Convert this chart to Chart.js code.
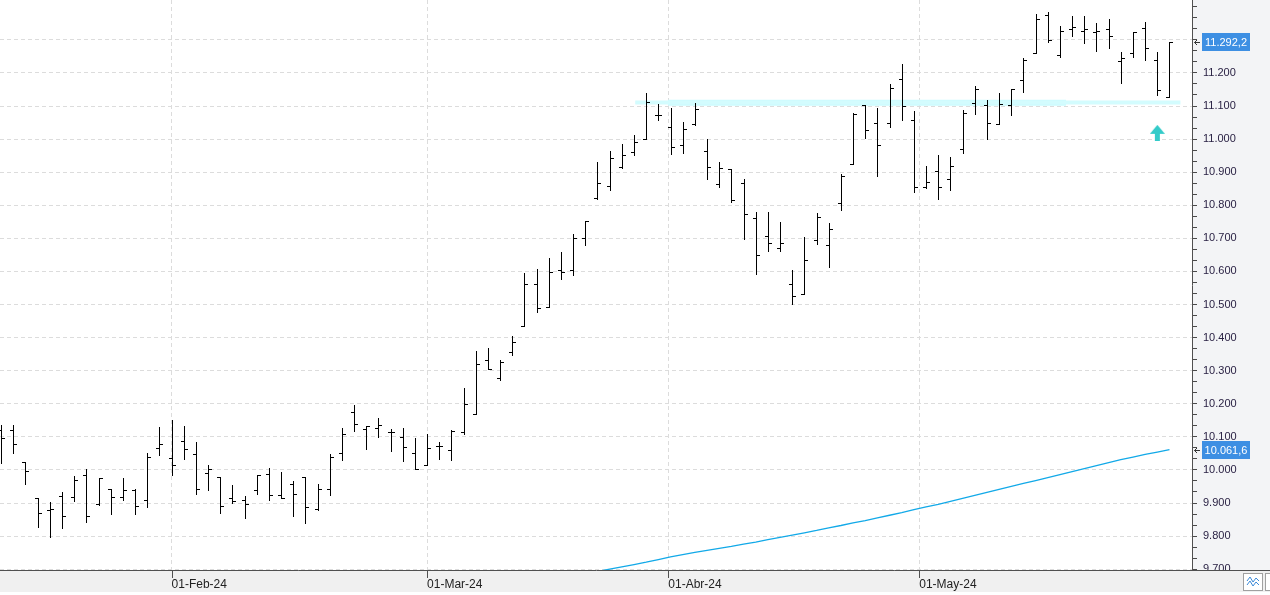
<!DOCTYPE html>
<html>
<head>
<meta charset="utf-8">
<title>Barras diarias</title>
<script src="https://cdn.jsdelivr.net/npm/chart.js"></script>
<style>
  html, body { margin: 0; padding: 0; background: #fff; overflow: hidden; }
  canvas { display: block; }
</style>
</head>
<body>
<canvas id="priceChart" width="1270" height="595"></canvas>
<script>
// one entry per session, index 0 = first bar on the left
const opens = [10120, 10121, 10023, 9914, 9879, 9920, 9918, 9984, 9898, 9942,
  9917, 9940, 9909, 10066, 10035, 10087, 10048, 9990, 9979, 9914,
  9909, 9939, 9987, 9923, 9957, 9978, 9883, 9942, 10050, 10175,
  10123, 10126, 10114, 10099, 10052, 10014, 10072, 10061, 10114, 10168,
  10332, 10277, 10356, 10435, 10562, 10492, 10604, 10604, 10701, 10822,
  10858, 10915, 10962, 11001, 11072, 11037, 10983, 11046, 10965, 10864,
  10910, 10867, 10762, 10707, 10670, 10562, 10532, 10694, 10680, 10807,
  10926, 11104, 11050, 11050, 11182, 11058, 10856, 10905, 10880, 10970,
  11108, 11103, 11045, 11103, 11179, 11261, 11376, 11255, 11334, 11327,
  11324, 11333, 11237, 11261, 11336, 11240, 11128];
const highs = [10136, 10136, 10023, 9914, 9902, 9933, 9981, 10002, 9976, 9942,
  9975, 9942, 10050, 10129, 10151, 10133, 10084, 10014, 9979, 9954,
  9920, 9986, 10005, 9994, 9967, 9978, 9958, 10048, 10126, 10196,
  10134, 10156, 10125, 10126, 10096, 10108, 10083, 10121, 10247, 10358,
  10369, 10332, 10405, 10596, 10608, 10641, 10658, 10714, 10752, 10932,
  10965, 10986, 11011, 11140, 11107, 11094, 11052, 11110, 11001, 10932,
  10910, 10880, 10781, 10780, 10749, 10605, 10704, 10777, 10746, 10895,
  11079, 11104, 11094, 11168, 11228, 11085, 10920, 10953, 10947, 11089,
  11162, 11119, 11138, 11152, 11246, 11377, 11385, 11343, 11371, 11371,
  11352, 11362, 11263, 11324, 11354, 11263, 11292.2];
const lows = [10022, 10050, 9956, 9827, 9798, 9824, 9905, 9844, 9893, 9866,
  9909, 9866, 9889, 10044, 9986, 10034, 9928, 9939, 9871, 9899,
  9856, 9928, 9908, 9914, 9862, 9841, 9880, 9924, 10030, 10119,
  10064, 10100, 10058, 10028, 10002, 10014, 10034, 10031, 10108, 10168,
  10305, 10271, 10347, 10435, 10476, 10492, 10576, 10588, 10679, 10819,
  10847, 10913, 10951, 11001, 11057, 10954, 10957, 11043, 10880, 10855,
  10809, 10697, 10592, 10661, 10661, 10501, 10532, 10684, 10612, 10786,
  10926, 11003, 10888, 11036, 11057, 10840, 10852, 10818, 10845, 10957,
  11075, 11001, 11045, 11072, 11141, 11261, 11293, 11248, 11312, 11291,
  11266, 11275, 11169, 11248, 11238, 11132, 11128];
const closes = [10096, 10079, 9996, 9869, 9881, 9860, 9969, 9860, 9976, 9917,
  9939, 9891, 10038, 10079, 10014, 10062, 9942, 10002, 9890, 9905,
  9896, 9984, 9925, 9916, 9927, 9887, 9943, 10038, 10108, 10138,
  10133, 10137, 10114, 10069, 10002, 10066, 10072, 10119, 10199, 10321,
  10305, 10326, 10388, 10562, 10489, 10599, 10599, 10701, 10752, 10867,
  10943, 10952, 10992, 11113, 11074, 10976, 11031, 11091, 10916, 10913,
  10816, 10774, 10650, 10686, 10686, 10526, 10635, 10765, 10727, 10887,
  11076, 11028, 10983, 11154, 11100, 10856, 10870, 10856, 10919, 11080,
  11152, 11050, 11107, 11152, 11240, 11364, 11300, 11327, 11340, 11333,
  11327, 11312, 11245, 11324, 11276, 11147, 11292.2];

// long moving average, only the part that shows above the bottom edge
const maStart = 47;
const movingAvg = [9678, 9686, 9693, 9700, 9707, 9714, 9721, 9729, 9737, 9744,
  9751, 9757, 9763, 9769, 9776, 9782, 9789, 9796, 9803, 9810,
  9817, 9825, 9832, 9840, 9847, 9855, 9863, 9871, 9880, 9888,
  9896, 9905, 9914, 9923, 9932, 9941, 9950, 9959, 9968, 9977,
  9986, 9995, 10004, 10013, 10022, 10031, 10039, 10047, 10054, 10061.6];

const monthTicks = [14, 35, 54.82, 75.44];
const monthLabels = ['01-Feb-24', '01-Mar-24', '01-Abr-24', '01-May-24'];
const yLabelled = [9700, 9800, 9900, 10000, 10100, 10200, 10300, 10400, 10500,
  10600, 10700, 10800, 10900, 11000, 11100, 11200, 11300];

// resistance band and buy signal drawn on the chart
const resistanceLevel = 11110;
const resistanceSpan = [52.1, 96.9];
const resistanceCore = [54.8, 87.5];
const signalBar = 95;
const signalLevel = 11019;
const priceTags = [11292.2, 10061.6];

const xMin = -0.095;
const xMax = 97.85;
const yMin = 9697.5;
const yMax = 11420.5;

// minor ticks every third of a hundred, majors every hundred
const yTickValues = [];
yLabelled.concat([11400]).forEach((v, i, arr) => {
  yTickValues.push(v);
  if (i < arr.length - 1) {
    yTickValues.push(v + 100 / 3, v + 200 / 3);
  }
});

function isMajor(v) {
  return yLabelled.some((m) => Math.abs(m - v) < 0.01);
}

function fmtEs(v, dec) {
  const parts = v.toFixed(dec).split('.');
  const intPart = parts[0].replace(/\B(?=(\d{3})+(?!\d))/g, '.');
  return parts[1] ? `${intPart},${parts[1]}` : intPart;
}

function makeArrow() {
  const c = document.createElement('canvas');
  c.width = 15;
  c.height = 16;
  const g = c.getContext('2d');
  g.fillStyle = '#33cbc9';
  g.beginPath();
  g.moveTo(7.5, 0);
  g.lineTo(15, 9);
  g.lineTo(0, 9);
  g.closePath();
  g.fill();
  g.fillRect(5, 8, 5, 8);
  return c;
}

const ohlcPlugin = {
  id: 'ohlc',
  beforeDraw(chart) {
    const { ctx, chartArea } = chart;
    ctx.save();
    ctx.fillStyle = '#ffffff';
    ctx.fillRect(0, 0, chart.width, chart.height);
    ctx.fillStyle = '#f3f4f6';
    ctx.fillRect(chartArea.right, 0, chart.width - chartArea.right, chartArea.bottom);
    ctx.restore();
  },
  beforeDatasetsDraw(chart) {
    // bottom strip covers the lowest price label, like the original
    const { ctx, chartArea } = chart;
    ctx.save();
    ctx.fillStyle = '#f0f0f0';
    ctx.fillRect(0, chartArea.bottom, chart.width, 22);
    ctx.fillStyle = '#ffffff';
    ctx.fillRect(0, chartArea.bottom + 22, chart.width, chart.height);
    ctx.restore();
  },
  afterDatasetsDraw(chart) {
    const { ctx, chartArea, scales: { x, y } } = chart;
    ctx.save();
    ctx.beginPath();
    ctx.rect(chartArea.left, chartArea.top, chartArea.width, chartArea.height);
    ctx.clip();
    ctx.strokeStyle = '#000000';
    ctx.lineWidth = 1;
    ctx.beginPath();
    highs.forEach((h, i) => {
      const cx = Math.round(x.getPixelForValue(i));
      const yh = Math.round(y.getPixelForValue(h));
      const yl = Math.round(y.getPixelForValue(lows[i]));
      const yo = Math.round(y.getPixelForValue(opens[i])) + 0.5;
      const yc = Math.round(y.getPixelForValue(closes[i])) + 0.5;
      ctx.moveTo(cx + 0.5, yh);
      ctx.lineTo(cx + 0.5, yl + 1);
      ctx.moveTo(cx - 3, yo);
      ctx.lineTo(cx, yo);
      ctx.moveTo(cx + 1, yc);
      ctx.lineTo(cx + 4, yc);
    });
    ctx.stroke();
    ctx.restore();
  },
  afterDraw(chart) {
    const { ctx, chartArea, scales: { x, y } } = chart;
    ctx.save();
    ctx.strokeStyle = '#505050';
    ctx.lineWidth = 1;
    ctx.beginPath();
    ctx.moveTo(chartArea.right, chartArea.bottom + 0.5);
    ctx.lineTo(chart.width, chartArea.bottom + 0.5);
    monthTicks.forEach((m) => {
      const px = Math.round(x.getPixelForValue(m)) + 0.5;
      ctx.moveTo(px, chartArea.bottom);
      ctx.lineTo(px, chartArea.bottom + 8);
    });
    ctx.stroke();

    // last value tags on the price axis
    ctx.font = '11px "Liberation Sans"';
    ctx.textAlign = 'center';
    ctx.textBaseline = 'middle';
    priceTags.forEach((v) => {
      const py = Math.round(y.getPixelForValue(v));
      ctx.fillStyle = '#3d8fe3';
      ctx.fillRect(chartArea.right + 10, py - 9, 48, 18);
      ctx.fillStyle = '#ffffff';
      ctx.fillText(fmtEs(v, 1), chartArea.right + 34, py + 0.5);
      ctx.strokeStyle = '#333333';
      ctx.beginPath();
      ctx.moveTo(chartArea.right + 2.5, py + 0.5);
      ctx.lineTo(chartArea.right + 8, py + 0.5);
      ctx.moveTo(chartArea.right + 5, py - 2);
      ctx.lineTo(chartArea.right + 2.5, py + 0.5);
      ctx.lineTo(chartArea.right + 5, py + 3);
      ctx.stroke();
    });

    // small buttons in the bottom right corner
    ctx.fillStyle = '#ffffff';
    ctx.strokeStyle = '#a0a0a0';
    ctx.fillRect(1243.5, 573.5, 19, 17);
    ctx.strokeRect(1243.5, 573.5, 19, 17);
    ctx.fillRect(1265.5, 573.5, 10, 17);
    ctx.strokeRect(1265.5, 573.5, 10, 17);
    ctx.strokeStyle = '#3c8ad8';
    ctx.beginPath();
    ctx.moveTo(1247, 581); ctx.lineTo(1250, 577); ctx.lineTo(1253, 582); ctx.lineTo(1256, 578); ctx.lineTo(1259, 581);
    ctx.moveTo(1247, 585); ctx.lineTo(1250, 581); ctx.lineTo(1253, 586); ctx.lineTo(1256, 582); ctx.lineTo(1259, 585);
    ctx.stroke();
    ctx.restore();
  },
};

new Chart(document.getElementById('priceChart'), {
  type: 'line',
  data: {
    datasets: [
      {
        label: 'Resistencia',
        data: resistanceSpan.map((v) => ({ x: v, y: resistanceLevel + 1 })),
        borderColor: '#d3fcfe',
        borderWidth: 4,
        pointRadius: 0,
      },
      {
        label: 'Resistencia núcleo',
        data: resistanceCore.map((v) => ({ x: v, y: resistanceLevel })),
        borderColor: '#cbfbfe',
        borderWidth: 6,
        pointRadius: 0,
      },
      {
        label: 'Media móvil',
        data: movingAvg.map((v, i) => ({ x: maStart + i, y: v })),
        borderColor: '#12a9e8',
        borderWidth: 1.3,
        pointRadius: 0,
        tension: 0,
      },
      {
        type: 'scatter',
        label: 'Señal',
        data: [{ x: signalBar, y: signalLevel }],
        pointStyle: makeArrow(),
        pointRadius: 8,
      },
    ],
  },
  options: {
    responsive: false,
    animation: false,
    devicePixelRatio: 1,
    layout: { padding: 0, autoPadding: false },
    plugins: {
      legend: { display: false },
      tooltip: { enabled: false },
    },
    scales: {
      x: {
        type: 'linear',
        min: xMin,
        max: xMax,
        afterBuildTicks: (s) => { s.ticks = monthTicks.map((v) => ({ value: v })); },
        afterFit: (s) => { s.height = 25; s.paddingLeft = 0; s.paddingRight = 0; },
        ticks: {
          callback: (v, i) => monthLabels[i],
          autoSkip: false,
          maxRotation: 0,
          align: 'start',
          padding: 1,
          color: '#222222',
          font: { family: 'Liberation Sans', size: 12 },
          z: 1,
        },
        grid: { color: '#dcdcdc', lineWidth: 1, tickLength: 6, tickColor: 'rgba(0,0,0,0)' },
        border: { display: true, color: '#505050', width: 1, dash: [4, 3], z: 1 },
      },
      y: {
        type: 'linear',
        position: 'right',
        min: yMin,
        max: yMax,
        afterBuildTicks: (s) => { s.ticks = yTickValues.map((v) => ({ value: v })); },
        afterFit: (s) => { s.width = 78; s.paddingTop = 0; s.paddingBottom = 0; },
        ticks: {
          autoSkip: false,
          padding: 6,
          color: '#2a2244',
          font: { family: 'Liberation Sans', size: 11 },
          callback: (v) => (isMajor(v) ? fmtEs(v, 0) : ''),
        },
        grid: {
          color: (c) => (c.tick && !isMajor(c.tick.value) ? 'rgba(0,0,0,0)' : '#dcdcdc'),
          tickColor: '#4a4a4a',
          tickLength: 5,
        },
        border: { display: true, color: '#505050', width: 1, dash: [4, 3] },
      },
    },
  },
  plugins: [ohlcPlugin],
});
</script>
</body>
</html>
